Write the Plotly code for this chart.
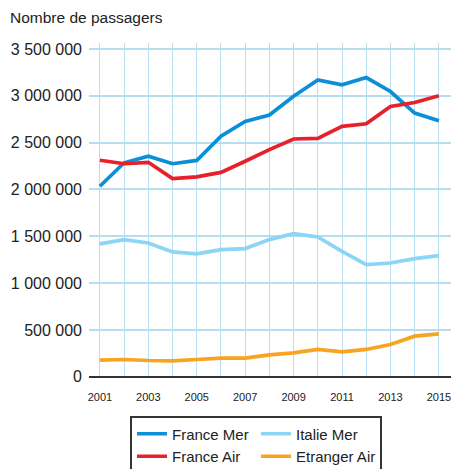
import plotly.graph_objects as go

# annees et series (passagers)
years = list(range(2001, 2016))
france_mer = [2035000, 2285000, 2355000, 2275000, 2310000, 2570000, 2727000, 2795000,
              2995000, 3170000, 3117000, 3195000, 3046000, 2816000, 2734000]
italie_mer = [1419000, 1465000, 1429000, 1333000, 1312000, 1358000, 1369000, 1465000,
              1529000, 1493000, 1340000, 1198000, 1215000, 1262000, 1294000]
france_air = [2312000, 2275000, 2290000, 2117000, 2135000, 2182000, 2301000, 2426000,
              2539000, 2546000, 2674000, 2702000, 2886000, 2929000, 3000000]
etranger_air = [178000, 185000, 174000, 171000, 185000, 199000, 199000, 235000,
                256000, 292000, 267000, 292000, 345000, 434000, 459000]

series = [
    ("France Mer", france_mer, "#0a8fd8"),
    ("Italie Mer", italie_mer, "#8dd5f5"),
    ("France Air", france_air, "#e8202a"),
    ("Etranger Air", etranger_air, "#f7a421"),
]

grid = "#b7ddf3"
font = "Liberation Sans, Arial, sans-serif"

W, H = 451, 469
L, T, B = 89, 43, 92
PW, PH = W - L, H - T - B

fig = go.Figure()
for name, vals, color in series:
    fig.add_trace(go.Scatter(x=years, y=vals, name=name, mode="lines",
                             line=dict(color=color, width=3.7)))

fig.update_layout(
    width=W, height=H,
    margin=dict(l=L, r=0, t=T, b=B, autoexpand=False),
    paper_bgcolor="white", plot_bgcolor="white",
    font=dict(family=font, color="#222"),
    separators=", ",
    showlegend=True,
    legend=dict(
        orientation="h",
        xref="container", yref="container",
        x=130 / W, xanchor="left", y=1 - 415.5 / H, yanchor="top",
        entrywidth=79, entrywidthmode="pixels",
        bordercolor="#333", borderwidth=2,
        font=dict(size=15, family=font, color="#222"),
        tracegroupgap=0,
    ),
    annotations=[dict(text="Nombre de passagers", xref="paper", yref="paper",
                      x=-(L - 8) / PW, y=1 + (T - 18) / PH, xanchor="left",
                      yanchor="middle", showarrow=False,
                      font=dict(size=15.5, family=font, color="#222"))],
)

fig.update_xaxes(
    range=[2000.55, 2015.5],
    tickvals=years[::2], ticktext=[str(y) for y in years[::2]],
    tickfont=dict(size=11, family=font, color="#222"),
    ticklabelstandoff=12, ticklabeloverflow="allow",
    showgrid=True, gridcolor=grid, gridwidth=1,
    minor=dict(tickvals=years, showgrid=True, gridcolor=grid, gridwidth=1),
    showline=False, zeroline=False,
)
fig.update_yaxes(
    range=[-2000, 3564000],
    tickvals=[0, 500000, 1000000, 1500000, 2000000, 2500000, 3000000, 3500000],
    tickformat=",d",
    tickfont=dict(size=16, family=font, color="#222"),
    ticklabelstandoff=6,
    showgrid=True, gridcolor=grid, gridwidth=1.5,
    zeroline=True, zerolinecolor="#333", zerolinewidth=1.5,
    showline=False,
)

# drop the page's default body margin so the figure fills the window
fig.write_html("out.html", config={"displayModeBar": False},
               post_script="document.body.style.margin='0';"
                           "document.body.style.overflow='hidden';")
